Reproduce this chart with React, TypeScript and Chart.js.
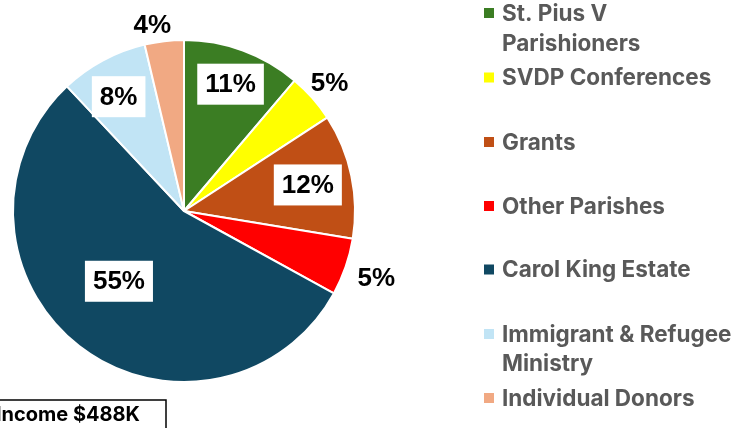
import React, { useEffect, useRef } from "react";
import { Chart, registerables } from "chart.js";

Chart.register(...registerables);

const categories = [
  "St. Pius V Parishioners",
  "SVDP Conferences",
  "Grants",
  "Other Parishes",
  "Carol King Estate",
  "Immigrant & Refugee Ministry",
  "Individual Donors",
];
const shares = [11.2, 4.6, 11.8, 5.4, 55.0, 8.3, 3.7];
const colors = ["#3B7D23", "#FFFF00", "#C04F15", "#FF0000", "#104862", "#C1E4F5", "#F1A983"];
// legend lines as shown (wrapped)
const legendLines = [
  ["St. Pius V", "Parishioners"],
  ["SVDP Conferences"],
  ["Grants"],
  ["Other Parishes"],
  ["Carol King Estate"],
  ["Immigrant & Refugee", "Ministry"],
  ["Individual Donors"],
];
const totalLabel = "Income $488K";

// layout: label placement (radius factor of outer radius, boxed inside or plain outside)
const labelRadius = [0.79, 1.134, 0.74, 1.19, 0.56, 0.77, 1.105];
const labelAngleShift = [0, 0, 0, 0, 5, -1.5, -3]; // degrees
const labelBoxed = [true, false, true, false, true, true, false];
const legendLineY = [[13, 43], [77.5], [142], [206], [269.5], [334, 363], [398]];

const labelPlugin = {
  id: "customLabels",
  afterDatasetsDraw(chart: any) {
    const ctx = chart.ctx;
    const meta = chart.getDatasetMeta(0);
    ctx.save();
    ctx.font = "bold 26px 'Liberation Sans', Arial, sans-serif";
    ctx.textAlign = "center";
    ctx.textBaseline = "middle";
    meta.data.forEach((arc: any, i: number) => {
      const p = arc.getProps(["x", "y", "startAngle", "endAngle", "outerRadius"], true);
      const mid = (p.startAngle + p.endAngle) / 2 + (labelAngleShift[i] * Math.PI) / 180;
      const r = p.outerRadius * labelRadius[i];
      const x = p.x + Math.cos(mid) * r;
      const y = p.y + Math.sin(mid) * r;
      const text = Math.round(shares[i]) + "%";
      if (labelBoxed[i]) {
        const w = ctx.measureText(text).width + 16;
        const h = 41;
        ctx.fillStyle = "#FFFFFF";
        ctx.fillRect(x - w / 2, y - h / 2, w, h);
      }
      ctx.fillStyle = "#000000";
      ctx.fillText(text, x, y + 1);
    });
    ctx.restore();
  },
  afterDraw(chart: any) {
    const ctx = chart.ctx;
    ctx.save();
    // legend
    ctx.font = "bold 22.5px Inter, 'Noto Sans', sans-serif";
    ctx.textAlign = "left";
    ctx.textBaseline = "middle";
    legendLines.forEach((lines, i) => {
      ctx.fillStyle = colors[i];
      ctx.fillRect(484, legendLineY[i][0] - 5, 10, 10);
      ctx.fillStyle = "#595959";
      lines.forEach((ln, j) => {
        ctx.fillText(ln, 502, legendLineY[i][j] + 1);
      });
    });
    // total box
    ctx.strokeStyle = "#000000";
    ctx.lineWidth = 1.5;
    ctx.strokeRect(-10, 400, 176, 60);
    ctx.fillStyle = "#000000";
    ctx.font = "bold 20px Inter, 'Noto Sans', sans-serif";
    ctx.textAlign = "right";
    ctx.textBaseline = "alphabetic";
    ctx.fillText(totalLabel, 140, 421);
    ctx.restore();
  },
};

export default function App() {
  const ref = useRef<HTMLCanvasElement | null>(null);
  useEffect(() => {
    if (!ref.current) return;
    const chart = new Chart(ref.current, {
      type: "pie",
      data: {
        labels: categories,
        datasets: [
          {
            data: shares,
            backgroundColor: colors,
            borderColor: "#FFFFFF",
            borderWidth: 2,
          },
        ],
      },
      options: {
        responsive: false,
        animation: false,
        layout: { padding: { left: 12, top: 39, right: 377, bottom: 45 } },
        plugins: {
          legend: { display: false },
          tooltip: { enabled: false },
          title: { display: false },
        },
      },
      plugins: [labelPlugin],
    });
    return () => chart.destroy();
  }, []);
  return (
    <div style={{ position: "fixed", left: 0, top: 0, width: 733, height: 428, background: "#fff" }}>
      <canvas ref={ref} width={733} height={428} style={{ display: "block" }} />
    </div>
  );
}
